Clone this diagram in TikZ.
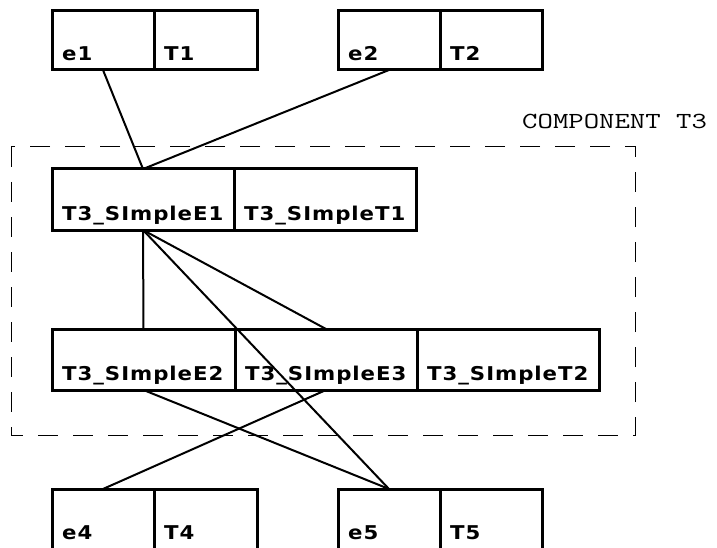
\documentclass[tikz,border=0pt]{standalone}
\usepackage{fontspec}
\newfontfamily\cellfont[FakeStretch=1.12,LetterSpace=5]{DejaVu Sans}
\newfontfamily\compfont[FakeStretch=1.3]{Latin Modern Mono}
\begin{document}
\begin{tikzpicture}[x=1pt,y=-1pt,
  cell/.style={draw=black,line width=3pt,rectangle,inner sep=0pt,outer sep=0pt,anchor=north west},
  lbl/.style={anchor=base west,inner sep=0pt,font=\cellfont\bfseries\fontsize{19}{19}\selectfont},
  conn/.style={line width=2pt,draw=black},
  comp/.style={draw=black,line width=1pt,dash pattern=on 20pt off 15pt}]
\useasboundingbox (0,0) rectangle (717,548);
\clip (0,0) rectangle (717,548);
% component frame
\draw[comp] (11,147) rectangle (635,435);
\node[anchor=base west,inner sep=0pt,font=\compfont\fontsize{23}{23}\selectfont] (comptitle) at (522,129) {COMPONENT T3};
% top boxes
\node[cell,minimum width=102,minimum height=59] (e1) at (52,11) {};
\node[cell,minimum width=103,minimum height=59] (t1) at (154,11) {};
\node[cell,minimum width=102,minimum height=59] (e2) at (338,11) {};
\node[cell,minimum width=102,minimum height=59] (t2) at (440,11) {};
% row 1
\node[cell,minimum width=182,minimum height=61] (se1) at (52,169) {};
\node[cell,minimum width=182,minimum height=61] (st1) at (234,169) {};
% row 2
\node[cell,minimum width=183,minimum height=61] (se2) at (52,329) {};
\node[cell,minimum width=182,minimum height=61] (se3) at (235,329) {};
\node[cell,minimum width=182,minimum height=61] (st2) at (417,329) {};
% bottom boxes
\node[cell,minimum width=102,minimum height=60] (e4) at (52,489) {};
\node[cell,minimum width=103,minimum height=60] (t4) at (154,489) {};
\node[cell,minimum width=102,minimum height=60] (e5) at (338,489) {};
\node[cell,minimum width=102,minimum height=60] (t5) at (440,489) {};
% labels
\foreach \n/\t in {e1/e1,t1/T1,e2/e2,t2/T2,se1/T3\_SImpleE1,st1/T3\_SImpleT1,se2/T3\_SImpleE2,se3/T3\_SImpleE3,st2/T3\_SImpleT2,e4/e4,t4/T4,e5/e5,t5/T5}
  \node[lbl,xshift=10pt,yshift=9.5pt] (\n-text) at (\n.south west) {\t};
% connectors
\draw[conn] (e1.south) -- (se1.north);
\draw[conn] (e2.south) -- (se1.north);
\draw[conn] (se1.south) -- (se2.north);
\draw[conn] (se1.south) -- (se3.north);
\draw[conn] (se1.south) -- (e5.north);
\draw[conn] (se2.south) -- (e5.north);
\draw[conn] (se3.south) -- (e4.north);
\end{tikzpicture}
\end{document}
